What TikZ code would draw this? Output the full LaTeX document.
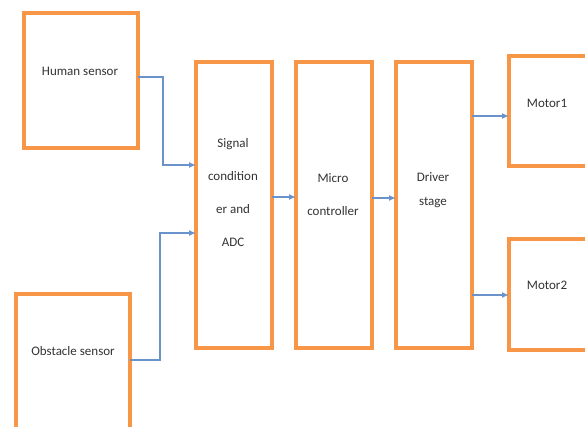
\documentclass[tikz,border=0pt]{standalone}
\usepackage{fontspec}
\setmainfont{Carlito}
\usetikzlibrary{arrows.meta}
\definecolor{boxorange}{HTML}{F79646}
\definecolor{linkblue}{HTML}{6A93CC}
\tikzset{
  blk/.style={draw=boxorange, line width=3.2pt, fill=white, inner sep=0pt, outer sep=0pt},
  lbl/.style={font=\fontsize{13}{33}\selectfont, align=center, text=black!80, inner sep=0pt},
  link/.style={draw=linkblue, line width=1.8pt, -{Latex[length=7pt,width=6pt]}},
}
\begin{document}
\begin{tikzpicture}[x=1pt,y=-1pt]
\clip (0,0) rectangle (585,426);
\fill[white] (0,0) rectangle (585,426);
% boxes
\node[blk, minimum width=114pt, minimum height=135pt, anchor=north west] (human) at (24,13) {};
\node[blk, minimum width=114pt, minimum height=145pt, anchor=north west] (obst) at (16,294) {};
\node[blk, minimum width=76pt, minimum height=286pt, anchor=north west] (sig) at (196,62) {};
\node[blk, minimum width=76pt, minimum height=286pt, anchor=north west] (mcu) at (296,62) {};
\node[blk, minimum width=76pt, minimum height=286pt, anchor=north west] (drv) at (396,62) {};
\node[blk, minimum width=80pt, minimum height=110pt, anchor=north west] (m1) at (509,56) {};
\node[blk, minimum width=80pt, minimum height=111pt, anchor=north west] (m2) at (509,239) {};
% labels
\node[lbl] (thuman) at (80,71) {Human sensor};
\node[lbl] (tobst) at (73,351) {Obstacle sensor};
\node[lbl] (tsig) at (233,193) {Signal\\condition\\er and\\ADC};
\node[lbl] (tmcu) at (333,195) {Micro\\controller};
\node[lbl, font=\fontsize{13}{24}\selectfont] (tdrv) at (433,190) {Driver\\stage};
\node[lbl] (tm1) at (547,103) {Motor1};
\node[lbl] (tm2) at (547,285) {Motor2};
% connectors
\coordinate (hs) at (human.east |- 0,77);
\coordinate (se1) at (sig.west |- 0,165);
\coordinate (os) at (obst.east |- 0,360);
\coordinate (se2) at (sig.west |- 0,233);
\draw[link] (hs) -| (163,165) -- (se1);
\draw[link] (os) -| (160,233) -- (se2);
\draw[link] (sig.east |- 0,197) -- (mcu.west |- 0,197);
\draw[link] (mcu.east |- 0,198) -- (drv.west |- 0,198);
\draw[link] (drv.east |- 0,116) -- (m1.west |- 0,116);
\draw[link] (drv.east |- 0,295) -- (m2.west |- 0,295);
\end{tikzpicture}
\end{document}
